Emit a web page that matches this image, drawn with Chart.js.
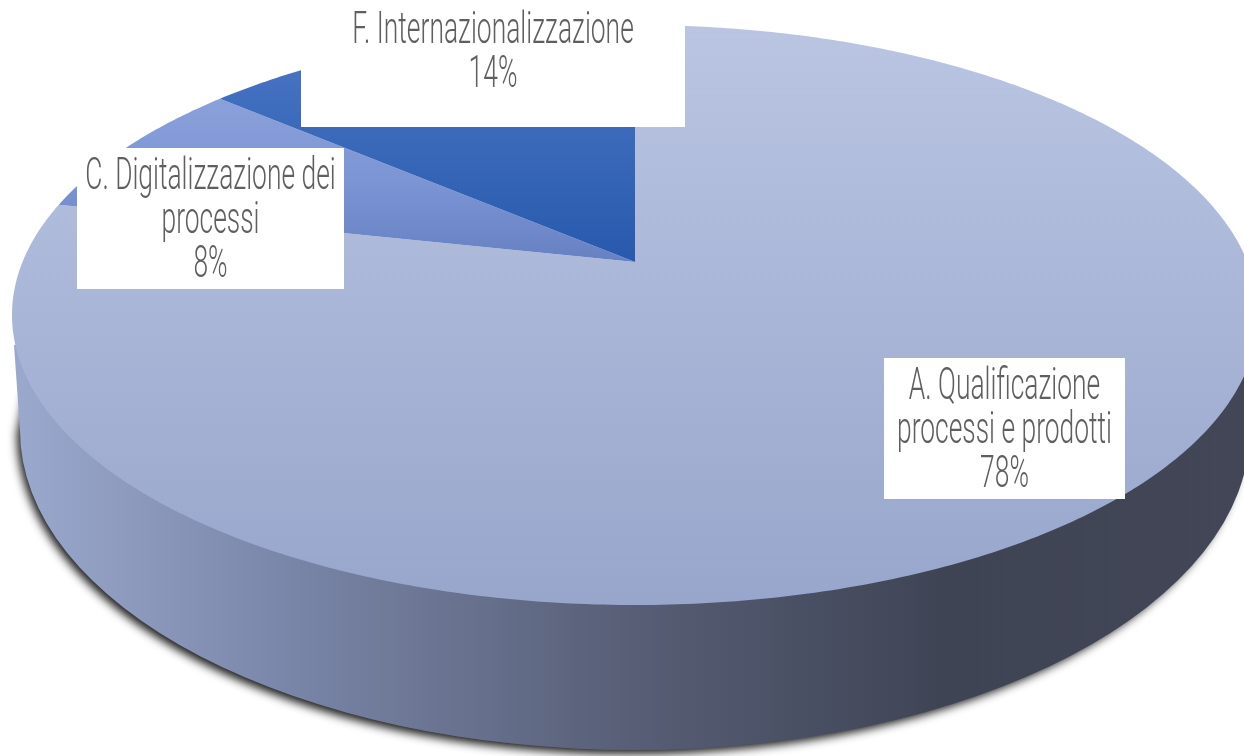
<!DOCTYPE html>
<html>
<head>
<meta charset="utf-8">
<script src="https://cdn.jsdelivr.net/npm/chart.js@4"></script>
<style>
  html, body { margin:0; padding:0; background:#fff; overflow:hidden; }
  canvas { display:block; }
</style>
</head>
<body>
<canvas id="pie" width="1244" height="756"></canvas>
<script>
const categories = ['A. Qualificazione processi e prodotti', 'C. Digitalizzazione dei processi', 'F. Internazionalizzazione'];
const shares = [78.4, 7.9, 13.7];
const labelLines = [['A. Qualificazione', 'processi e prodotti'], ['C. Digitalizzazione dei', 'processi'], ['F. Internazionalizzazione']];

// label boxes: x0, y0, x1, y1, first baseline
const boxes = [[884, 358, 1125, 499, 399], [77, 148, 344, 289, 189], [301, 0, 685, 127, 43]];

// top face is a circle seen in perspective: the apex sits above the ellipse centre
const cx = 635, apexY = 262, topY = 25, bottomY = 605, halfW = 623;
const C = (2 * apexY - topY - bottomY) / (bottomY - topY);
const A = bottomY * (1 + C) - apexY;
const R = halfW * Math.sqrt(1 - C * C);

function project(angle) {
  const u = Math.cos(angle), v = Math.sin(angle), w = 1 + C * v;
  return [cx + R * u / w, (A * v + apexY) / w];
}

function vGradient(ctx, y0, y1, stops) {
  const g = ctx.createLinearGradient(0, y0, 0, y1);
  stops.forEach(s => g.addColorStop(s[0], s[1]));
  return g;
}

const faces = [
  c => vGradient(c, 25, 605, [[0, '#bac5e2'], [1, '#98a6cc']]),
  c => vGradient(c, 95, 262, [[0, '#8ba1da'], [0.5, '#7c95d5'], [1, '#6680c2']]),
  c => vGradient(c, 70, 262, [[0, '#4572c2'], [1, '#2859ac']])
];

function drawSide(ctx) {
  const g = ctx.createLinearGradient(20, 0, 1250, 0);
  g.addColorStop(0, '#9aa8cd');
  g.addColorStop(0.23, '#7884a6');
  g.addColorStop(0.5, '#575e75');
  g.addColorStop(0.75, '#3f4455');
  g.addColorStop(1, '#424657');

  // soft shadow only round the lower rim
  ctx.save();
  ctx.shadowColor = 'rgba(0,0,0,0.9)';
  ctx.shadowBlur = 10;
  ctx.shadowOffsetX = -5;
  ctx.shadowOffsetY = 4;
  ctx.fillStyle = '#555';
  ctx.beginPath();
  ctx.moveTo(30, 390);
  ctx.lineTo(22, 430);
  ctx.ellipse(635, 430, 613, 320, 0, Math.PI, 0, true);
  ctx.lineTo(1236, 395);
  ctx.closePath();
  ctx.fill();
  ctx.restore();

  ctx.fillStyle = g;
  ctx.beginPath();
  ctx.moveTo(14, 345);
  ctx.lineTo(20, 430);
  ctx.ellipse(635, 430, 615, 320, 0, Math.PI, 0, true);
  ctx.lineTo(1258, 345);
  ctx.closePath();
  ctx.fill();
}

const perspectivePie = {
  id: 'perspectivePie',
  beforeDatasetDraw(chart) {
    const ctx = chart.ctx;
    drawSide(ctx);
    chart.getDatasetMeta(0).data.forEach((arc, i) => {
      const steps = Math.ceil((arc.endAngle - arc.startAngle) * 90);
      ctx.beginPath();
      ctx.moveTo(cx, apexY);
      for (let s = 0; s <= steps; s++) {
        const p = project(arc.startAngle + (arc.endAngle - arc.startAngle) * s / steps);
        ctx.lineTo(p[0], p[1]);
      }
      ctx.closePath();
      ctx.fillStyle = faces[i](ctx);
      ctx.fill();
    });
    return false;
  },
  afterDatasetsDraw(chart) {
    const ctx = chart.ctx;
    categories.forEach((cat, i) => {
      const b = boxes[i];
      ctx.fillStyle = '#fff';
      ctx.fillRect(b[0], b[1], b[2] - b[0], b[3] - b[1]);
      const mid = (b[0] + b[2]) / 2;
      const lines = labelLines[i].concat(Math.round(shares[i]) + '%');
      lines.forEach((line, k) => {
        ctx.save();
        ctx.translate(mid, b[4] + k * 44);
        ctx.scale(0.66, 1.1);
        ctx.font = '300 40px Roboto';
        ctx.textAlign = 'center';
        ctx.textBaseline = 'alphabetic';
        ctx.fillStyle = '#5f5f5f';
        ctx.fillText(line, 0, 0);
        ctx.restore();
      });
    });
  }
};

new Chart(document.getElementById('pie').getContext('2d'), {
  type: 'pie',
  data: {
    labels: categories,
    datasets: [{ data: shares, borderWidth: 0 }]
  },
  options: {
    responsive: false,
    animation: false,
    plugins: { legend: { display: false }, tooltip: { enabled: false } }
  },
  plugins: [perspectivePie]
});
</script>
</body>
</html>
